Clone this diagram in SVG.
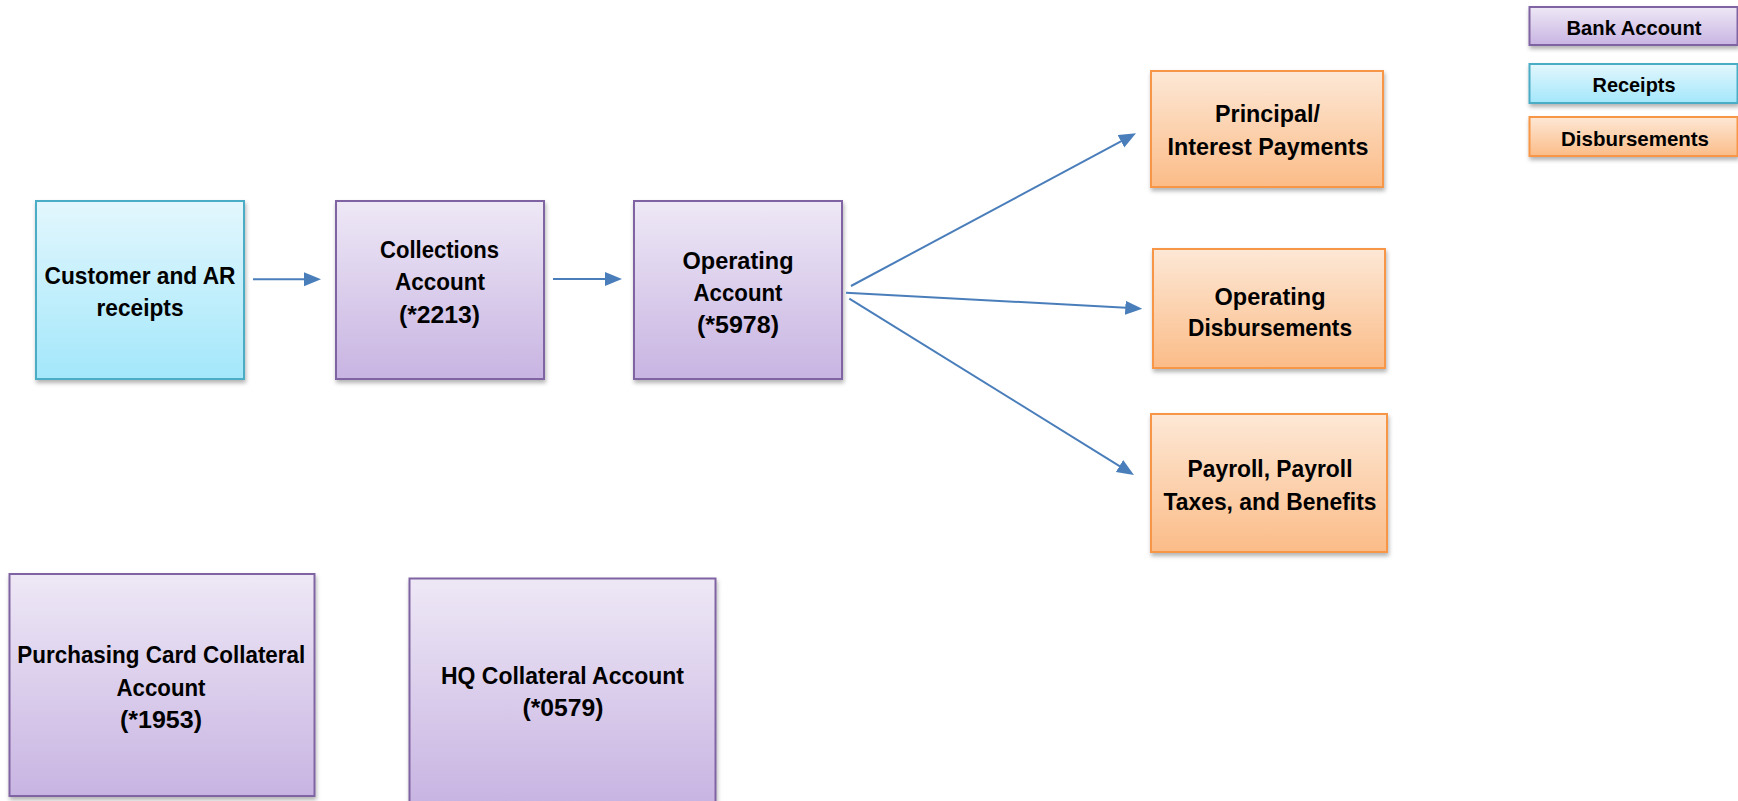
<svg xmlns="http://www.w3.org/2000/svg" width="1738" height="801" viewBox="0 0 1738 801">
<defs>
<linearGradient id="gPurple" x1="0" y1="0" x2="0" y2="1"><stop offset="0" stop-color="#eee8f6"/><stop offset="1" stop-color="#c8b4e2"/></linearGradient>
<linearGradient id="gBlue" x1="0" y1="0" x2="0" y2="1"><stop offset="0" stop-color="#e3f7fd"/><stop offset="1" stop-color="#a3e7fb"/></linearGradient>
<linearGradient id="gOrange" x1="0" y1="0" x2="0" y2="1"><stop offset="0" stop-color="#fde8d6"/><stop offset="1" stop-color="#fbbc88"/></linearGradient>
<filter id="shadow" x="-10%" y="-10%" width="120%" height="130%"><feDropShadow dx="1" dy="3" stdDeviation="2" flood-color="#000" flood-opacity="0.3"/></filter>
<marker id="arrow" markerUnits="userSpaceOnUse" markerWidth="17" markerHeight="15" refX="10" refY="7" orient="auto"><path d="M0,0 L17,7 L0,14 z" fill="#4a7ebb"/></marker>
<style>
.bank{fill:url(#gPurple);stroke:#8064a2;stroke-width:2;filter:url(#shadow)}
.rec{fill:url(#gBlue);stroke:#4bacc6;stroke-width:2;filter:url(#shadow)}
.dis{fill:url(#gOrange);stroke:#f79646;stroke-width:2;filter:url(#shadow)}
text{font-family:"Liberation Sans",Arial,sans-serif;font-weight:bold;font-size:24px;fill:#000;text-anchor:middle}
.lg{font-size:21px}
.conn line{stroke:#4a7ebb;stroke-width:2;fill:none;marker-end:url(#arrow)}
</style>
</defs>
<rect width="1738" height="801" fill="#fff"/>
<g id="customer">
<rect class="rec" x="36" y="201" width="208" height="178"/>
<text x="140" y="283.5" textLength="191" lengthAdjust="spacingAndGlyphs">Customer and AR</text>
<text x="140" y="315.5" textLength="87" lengthAdjust="spacingAndGlyphs">receipts</text>
</g>
<g id="collections">
<rect class="bank" x="336" y="201" width="208" height="178"/>
<text x="439.5" y="257.5" textLength="119" lengthAdjust="spacingAndGlyphs">Collections</text>
<text x="440" y="290" textLength="90" lengthAdjust="spacingAndGlyphs">Account</text>
<text x="439.5" y="322.5" textLength="81" lengthAdjust="spacingAndGlyphs">(*2213)</text>
</g>
<g id="operating">
<rect class="bank" x="634" y="201" width="208" height="178"/>
<text x="738" y="268.5" textLength="111" lengthAdjust="spacingAndGlyphs">Operating</text>
<text x="738" y="300.5" textLength="89" lengthAdjust="spacingAndGlyphs">Account</text>
<text x="738" y="332.5" textLength="82" lengthAdjust="spacingAndGlyphs">(*5978)</text>
</g>
<g id="principal">
<rect class="dis" x="1151" y="71" width="232" height="116"/>
<text x="1267.5" y="122" textLength="105" lengthAdjust="spacingAndGlyphs">Principal/</text>
<text x="1268" y="154.5" textLength="201" lengthAdjust="spacingAndGlyphs">Interest Payments</text>
</g>
<g id="opdisb">
<rect class="dis" x="1153" y="249" width="232" height="119"/>
<text x="1270" y="304.5" textLength="111" lengthAdjust="spacingAndGlyphs">Operating</text>
<text x="1270" y="336" textLength="164" lengthAdjust="spacingAndGlyphs">Disbursements</text>
</g>
<g id="payroll">
<rect class="dis" x="1151" y="414" width="236" height="138"/>
<text x="1270" y="477" textLength="165" lengthAdjust="spacingAndGlyphs">Payroll, Payroll</text>
<text x="1270" y="510" textLength="213" lengthAdjust="spacingAndGlyphs">Taxes, and Benefits</text>
</g>
<g id="purchasing">
<rect class="bank" x="9.5" y="574" width="305" height="222"/>
<text x="161.3" y="663" textLength="288" lengthAdjust="spacingAndGlyphs">Purchasing Card Collateral</text>
<text x="161" y="696" textLength="89" lengthAdjust="spacingAndGlyphs">Account</text>
<text x="161" y="728" textLength="82" lengthAdjust="spacingAndGlyphs">(*1953)</text>
</g>
<g id="hq">
<rect class="bank" x="409.5" y="578.5" width="306" height="224"/>
<text x="562.5" y="684" textLength="243" lengthAdjust="spacingAndGlyphs">HQ Collateral Account</text>
<text x="563" y="716" textLength="81" lengthAdjust="spacingAndGlyphs">(*0579)</text>
</g>
<g id="legend-bank">
<rect class="bank" x="1529.5" y="7" width="208" height="38"/>
<text class="lg" x="1634" y="35" textLength="135" lengthAdjust="spacingAndGlyphs">Bank Account</text>
</g>
<g id="legend-receipts">
<rect class="rec" x="1529.5" y="64" width="208" height="39"/>
<text class="lg" x="1634" y="92" textLength="83" lengthAdjust="spacingAndGlyphs">Receipts</text>
</g>
<g id="legend-disb">
<rect class="dis" x="1529.5" y="117" width="208" height="39"/>
<text class="lg" x="1635" y="146" textLength="148" lengthAdjust="spacingAndGlyphs">Disbursements</text>
</g>
<g id="connectors" class="conn">
<line x1="253" y1="279.3" x2="314" y2="279.3"/>
<line x1="553" y1="279" x2="615" y2="279"/>
<line x1="851" y1="286" x2="1129.8" y2="136.6"/>
<line x1="846" y1="292.7" x2="1135.3" y2="308.3"/>
<line x1="849.3" y1="298.7" x2="1128" y2="471.3"/>
</g>
</svg>
